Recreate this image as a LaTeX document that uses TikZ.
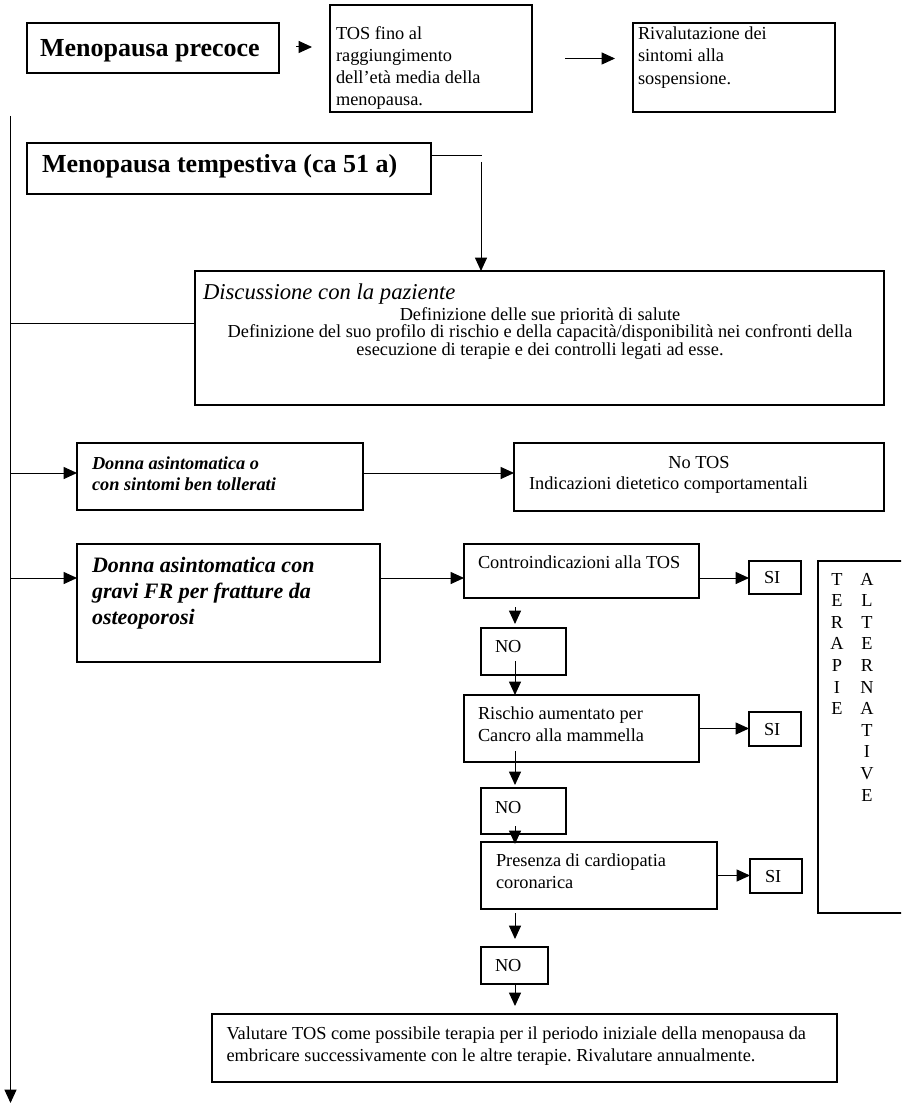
\documentclass[tikz,border=0pt]{standalone}
\usepackage{fontspec}
\setmainfont{Liberation Serif}
\usetikzlibrary{arrows.meta,fit,calc}
\frenchspacing
\begin{document}
\begin{tikzpicture}[x=0.75pt,y=-0.75pt,
  box/.style={draw, line width=0.9pt, inner sep=0pt, outer sep=0pt},
  arr/.style={-{Triangle[length=10pt,width=9pt]}, line width=0.75pt},
  ln/.style={line width=0.75pt},
  txt/.style={inner sep=0pt, outer sep=0pt, font=\fontsize{13.75}{16.5}\selectfont},
  ttl/.style={inner sep=0pt, outer sep=0pt, font=\bfseries\fontsize{19.5}{23}\selectfont}]
\useasboundingbox (0,0) rectangle (901,1105);
\clip (0,0) rectangle (901,1105);
% boxes
\node[box, fit={(27,23) (279,73)}] (mp) {};
\node[box, fit={(330,5) (532,112)}] (tos) {};
\node[box, fit={(633,23) (835,112)}] (riv) {};
\node[box, fit={(27,143) (431,194)}] (mt) {};
\node[box, fit={(195,271) (884,405)}] (disc) {};
\node[box, fit={(77,443) (363,510)}] (d1) {};
\node[box, fit={(514,443) (884,511)}] (nt) {};
\node[box, fit={(77,544) (380,662)}] (d2) {};
\node[box, fit={(464,544) (699,598)}] (ci) {};
\node[box, fit={(749,561) (801,594)}] (si1) {};
\node[box, fit={(818,561) (910,913)}] (ta) {};
\node[box, fit={(481,628) (566,675)}] (no1) {};
\node[box, fit={(464,695) (699,762)}] (rc) {};
\node[box, fit={(749,712) (801,746)}] (si2) {};
\node[box, fit={(481,788) (566,834)}] (no2) {};
\node[box, fit={(481,842) (717,909)}] (pc) {};
\node[box, fit={(750,859) (802,893)}] (si3) {};
\node[box, fit={(481,947) (548,984)}] (no3) {};
\node[box, fit={(212,1014) (837,1082)}] (val) {};
% texts
\node[ttl, anchor=base west] (mpt) at (40,57) {Menopausa precoce};
\node[txt, anchor=north west, align=left] (tost) at (336,26.5) {TOS fino al\\raggiungimento\\dell’età media della\\menopausa.};
\node[txt, anchor=north west, align=left, font=\fontsize{13.75}{17}\selectfont] (rivt) at (638,26.5) {Rivalutazione dei\\sintomi alla\\sospensione.};
\node[ttl, anchor=base west] (mtt) at (42,173) {Menopausa tempestiva (ca 51 a)};
\node[txt, anchor=base west, font=\itshape\fontsize{17}{20}\selectfont] (disct) at (203,300) {Discussione con la paziente};
\node[txt, anchor=north, align=center, font=\fontsize{13.75}{13.1}\selectfont] (discb) at (540,307.5) {Definizione delle sue priorità di salute\\Definizione del suo profilo di rischio e della capacità/disponibilità nei confronti della\\esecuzione di terapie e dei controlli legati ad esse.};
\node[txt, anchor=north west, align=left, font=\bfseries\itshape\fontsize{13.75}{15.75}\selectfont] (d1t) at (92,456.5) {Donna asintomatica o\\con sintomi ben tollerati};
\node[txt, anchor=base] (nt1) at (699,468) {No TOS};
\node[txt, anchor=base west] (nt2) at (529,489) {Indicazioni dietetico comportamentali};
\node[txt, anchor=north west, align=left, font=\bfseries\itshape\fontsize{16.5}{19.5}\selectfont] (d2t) at (92,557) {Donna asintomatica con\\gravi FR per fratture da\\osteoporosi};
\node[txt, anchor=base west] (cit) at (478,568) {Controindicazioni alla TOS};
\node[txt, anchor=north west, align=left] (rct) at (478,706.5) {Rischio aumentato per\\Cancro alla mammella};
\node[txt, anchor=north west, align=left] (pct) at (496,853.5) {Presenza di cardiopatia\\coronarica};
\node[txt, anchor=base west] (no1t) at (495,652) {NO};
\node[txt, anchor=base west] (no2t) at (495,813) {NO};
\node[txt, anchor=base west] (no3t) at (495,971) {NO};
\node[txt, anchor=base west] (si1t) at (764,583.5) {SI};
\node[txt, anchor=base west] (si2t) at (764,735) {SI};
\node[txt, anchor=base west] (si3t) at (765,882) {SI};
\node[txt, anchor=north west, align=left] (valt) at (226.5,1026.5) {Valutare TOS come possibile terapia per il periodo iniziale della menopausa da\\embricare successivamente con le altre terapie. Rivalutare annualmente.};
\foreach \l [count=\i from 0] in {T,E,R,A,P,I,E}
  \node[txt, anchor=base] (taa\i) at (837,{585+21.6*\i}) {\l};
\foreach \l [count=\i from 0] in {A,L,T,E,R,N,A,T,I,V,E}
  \node[txt, anchor=base] (tab\i) at (867,{585+21.6*\i}) {\l};
% connectors
\draw[arr] ($(mp.east)+(17,-1)$) -- ($(mp.east)+(33,-1)$);
\draw[arr] ($(tos.east)+(33,0)$) -- ($(tos.east)+(83,0)$);
\coordinate (k1) at (482,156);
\coordinate (k2) at (481,162);
\draw[ln] (mt.east |- k1) -- (k1);
\draw[arr] (k2) -- (k2 |- disc.north);
\coordinate (sp0) at (10.5,116);
\coordinate (sp1) at (10.5,1103);
\draw[arr] (sp0) -- (sp1);
\draw[ln] (sp0 |- 0,323) -- (disc.west |- 0,323);
\draw[arr] (sp0 |- 0,473) -- (d1.west |- 0,473);
\draw[arr] (d1.east |- 0,473) -- (nt.west |- 0,473);
\draw[arr] (sp0 |- 0,578) -- (d2.west |- 0,578);
\draw[arr] (d2.east |- 0,578) -- (ci.west |- 0,578);
\draw[arr] (ci.east |- 0,578) -- (si1.west |- 0,578);
\draw[arr] ($(ci.south -| 515,0)+(0,9)$) -- ($(no1.north -| 515,0)+(0,-4)$);
\draw[arr] ($(no1.south -| 515,0)+(0,-14)$) -- (rc.north -| 515,0);
\draw[arr] (rc.east) -- (si2.west |- rc.east);
\draw[arr] ($(rc.south -| 515,0)+(0,-11)$) -- ($(no2.north -| 515,0)+(0,-3)$);
\draw[arr] ($(no2.south -| 515,0)+(0,-8)$) -- ($(pc.north -| 515,0)+(0,2)$);
\draw[arr] (pc.east) -- (si3.west |- pc.east);
\draw[arr] ($(pc.south -| 515,0)+(0,4)$) -- ($(no3.north -| 515,0)+(0,-8)$);
\draw[arr] (no3.south -| 515,0) -- ($(val.north -| 515,0)+(0,-8)$);
\end{tikzpicture}
\end{document}
